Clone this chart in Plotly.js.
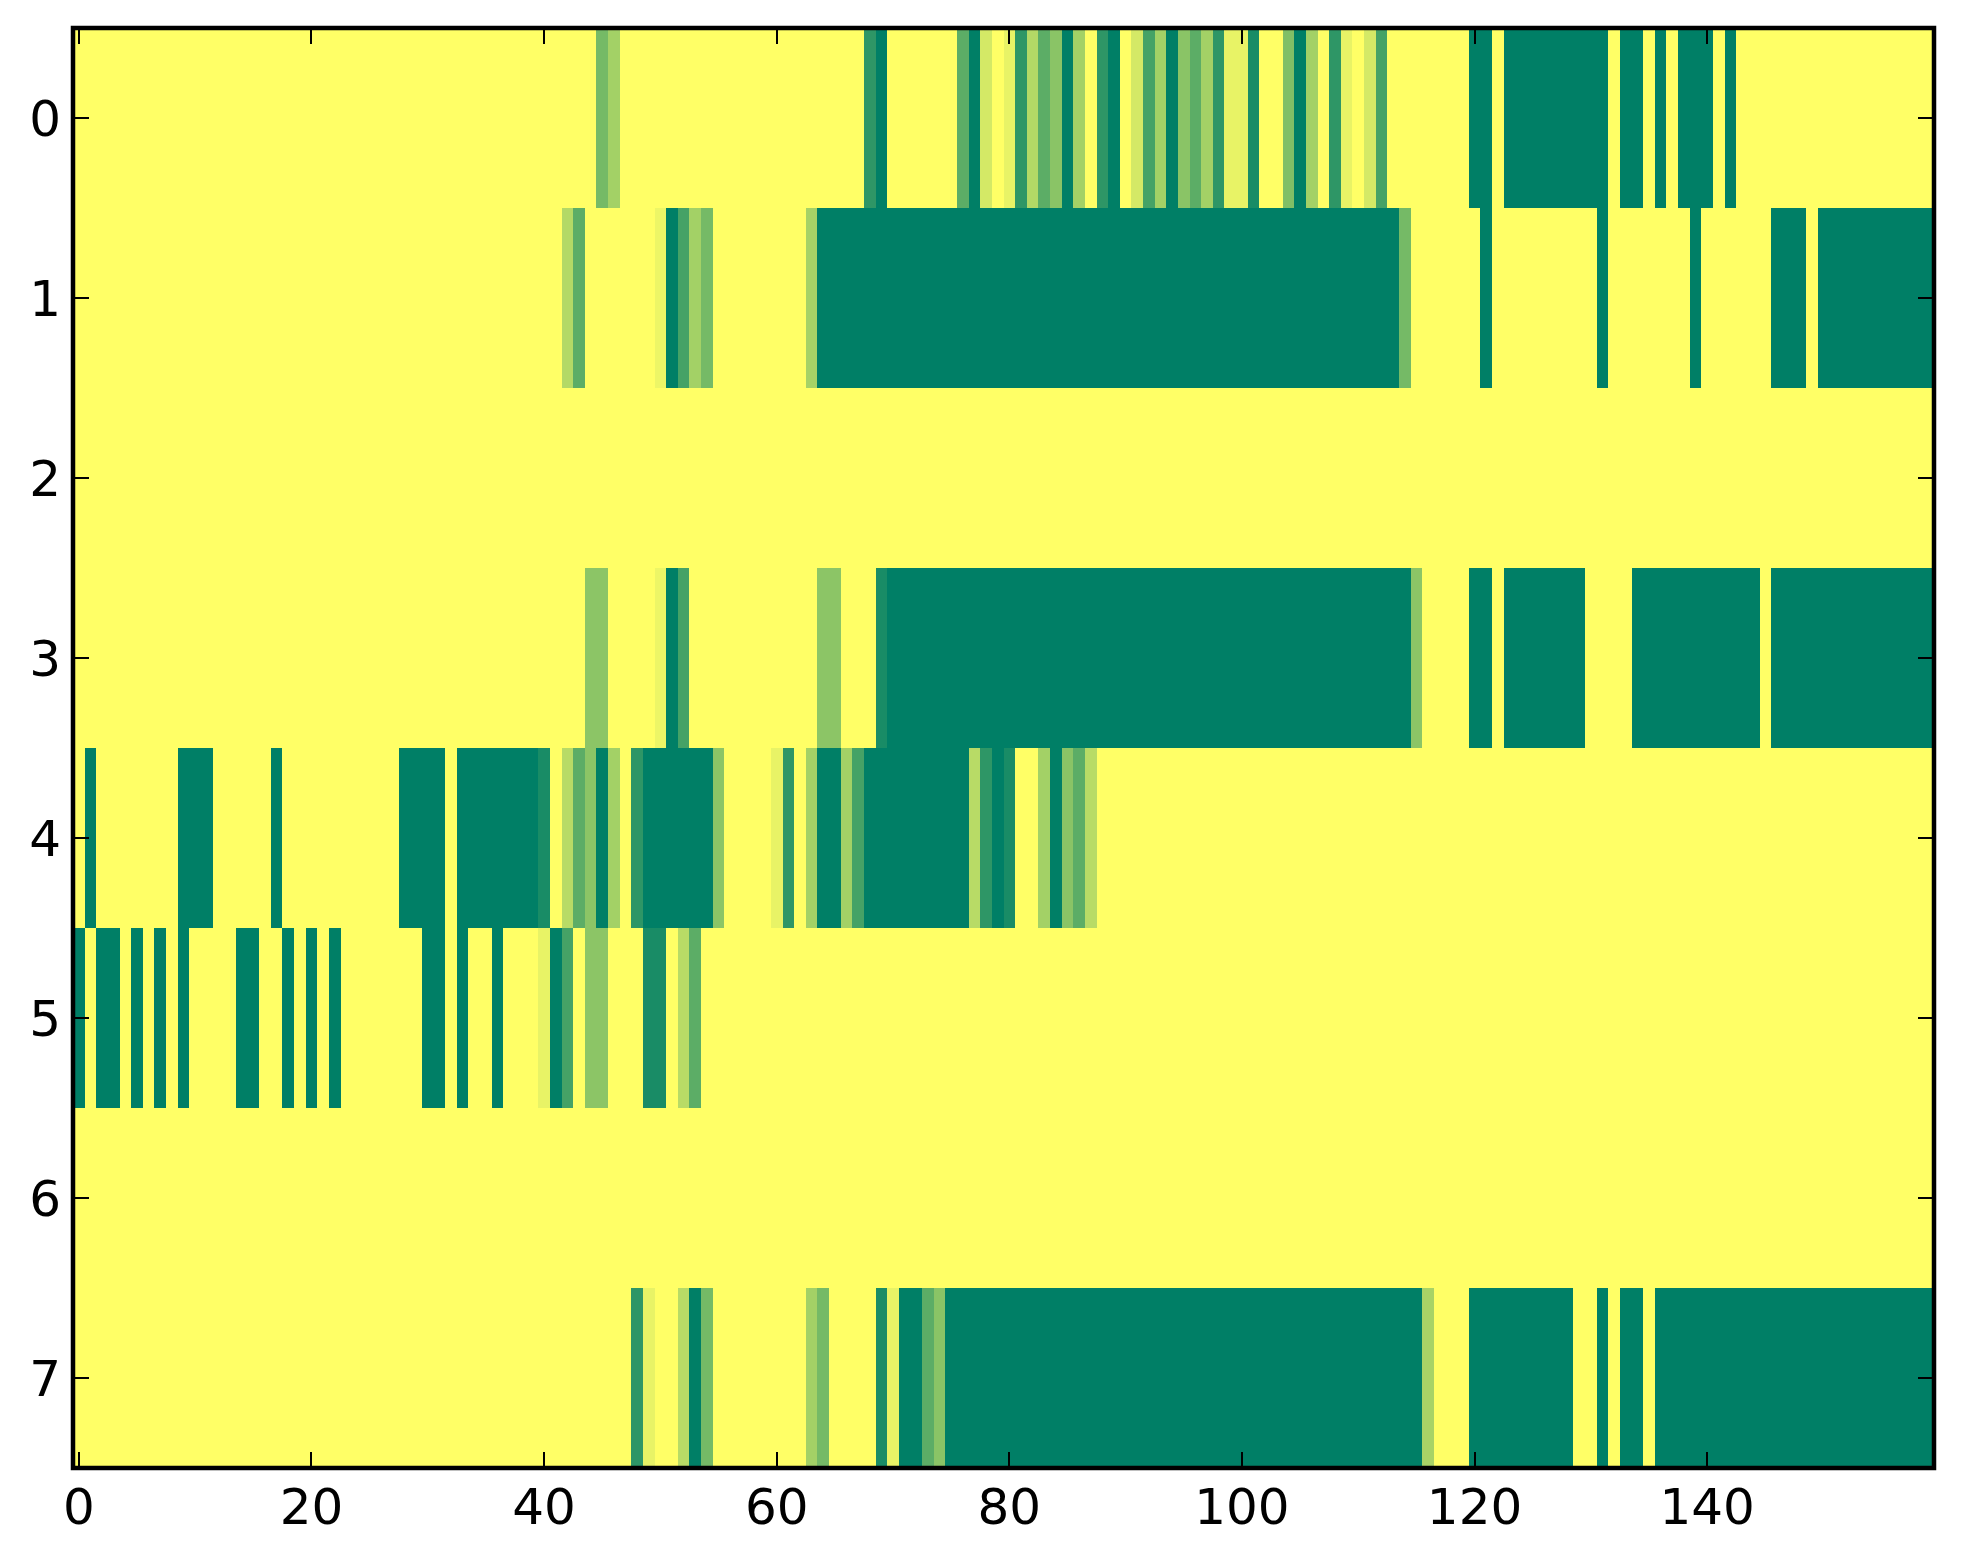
<!DOCTYPE html>
<html>
<head>
<meta charset="utf-8">
<script src="https://cdn.plot.ly/plotly-3.0.1.min.js"></script>
<style>html,body{margin:0;padding:0;background:#fff}</style>
</head>
<body>
<div id="chart" style="width:1963px;height:1564px"></div>
<script>
// Each row lists its non-yellow runs: [first column, last column, value 0..1]
const columnCount = 160;
const row0 = [[45,45,.54],[46,46,.36],[68,68,.82],[69,69,1],[76,76,.64],[77,77,1],[78,78,.17],[80,80,.09],[81,81,.82],[82,82,.3],[83,83,.64],[84,84,.46],[85,85,1],[86,86,.36],[88,88,.82],[89,89,1],[91,91,.17],[92,92,.73],[93,93,.36],[94,94,1],[95,95,.46],[96,96,.64],[97,97,.36],[98,98,.82],[99,100,.09],[101,101,.9],[104,104,.5],[105,105,1],[106,106,.36],[108,108,.82],[109,109,.09],[111,111,.17],[112,112,.73],[120,121,1],[123,131,1],[133,134,1],[136,136,1],[138,140,1],[142,142,1]];
const row1 = [[42,42,.3],[43,43,.64],[50,50,.07],[51,51,1],[52,52,.73],[53,53,.36],[54,54,.54],[63,63,.35],[64,113,1],[114,114,.54],[121,121,1],[131,131,1],[139,139,1],[146,148,1],[150,159,1]];
const row2 = [];
const row3 = [[44,45,.45],[50,50,.07],[51,51,1],[52,52,.73],[64,65,.45],[69,69,.9],[70,114,1],[115,115,.45],[120,121,1],[123,129,1],[134,144,1],[146,159,1]];
const row4 = [[1,1,1],[9,11,1],[17,17,1],[28,31,1],[33,39,1],[40,40,.9],[42,42,.28],[43,43,.64],[44,44,.45],[45,45,1],[46,46,.36],[48,48,.82],[49,54,1],[55,55,.45],[60,60,.09],[61,61,.82],[63,63,.36],[64,65,1],[66,66,.36],[67,67,.73],[68,76,1],[77,77,.28],[78,78,.82],[79,79,1],[80,80,.9],[83,83,.36],[84,84,1],[85,85,.46],[86,86,.64],[87,87,.28]];
const row5 = [[0,0,1],[2,3,1],[5,5,1],[7,7,1],[9,9,1],[14,15,1],[18,18,1],[20,20,1],[22,22,1],[30,31,1],[33,33,1],[36,36,1],[40,40,.09],[41,41,1],[42,42,.73],[44,45,.45],[49,50,.9],[52,52,.28],[53,53,.64]];
const row6 = [];
const row7 = [[48,48,.82],[49,49,.09],[52,52,.28],[53,53,1],[54,54,.54],[63,63,.36],[64,64,.54],[69,69,.9],[70,70,.09],[71,72,1],[73,73,.64],[74,74,.46],[75,115,1],[116,116,.34],[120,128,1],[131,131,1],[133,134,1],[136,159,1]];
const rows = [row0,row1,row2,row3,row4,row5,row6,row7];
const xTicks = [0,20,40,60,80,100,120,140];
const yTicks = [0,1,2,3,4,5,6,7];

const z = rows.map(function (runs) {
  const cells = new Array(columnCount).fill(0);
  runs.forEach(function (r) { for (let c = r[0]; c <= r[1]; c++) cells[c] = r[2]; });
  return cells;
});

const axisFont = {family: '"DejaVu Sans", sans-serif', size: 50, color: '#000'};
const axisBase = {
  ticks: 'inside', ticklen: 16, tickwidth: 2, tickcolor: '#000', mirror: 'allticks',
  showgrid: false, zeroline: false, showline: false, tickfont: axisFont, tickmode: 'array', automargin: false
};

Plotly.newPlot('chart', [{
  type: 'heatmap', z: z, zmin: 0, zmax: 1, zsmooth: false, showscale: false,
  colorscale: [[0, 'rgb(255,255,102)'], [1, 'rgb(0,127,102)']], hoverinfo: 'skip'
}], {
  width: 1963, height: 1564,
  paper_bgcolor: '#fff', plot_bgcolor: '#fff',
  margin: {l: 73, r: 29, t: 28, b: 96, pad: 0},
  xaxis: Object.assign({}, axisBase, {range: [-0.5, 159.5], tickvals: xTicks, ticktext: xTicks.map(String), ticklabelstandoff: 5}),
  yaxis: Object.assign({}, axisBase, {range: [7.5, -0.5], tickvals: yTicks, ticktext: yTicks.map(String), ticklabelstandoff: 11}),
  shapes: [{type: 'rect', xref: 'paper', yref: 'paper', x0: 0, x1: 1, y0: 0, y1: 1, line: {color: '#000', width: 4.5}, fillcolor: 'rgba(0,0,0,0)', layer: 'above'}],
  showlegend: false
}, {staticPlot: true, displayModeBar: false});
</script>
</body>
</html>
